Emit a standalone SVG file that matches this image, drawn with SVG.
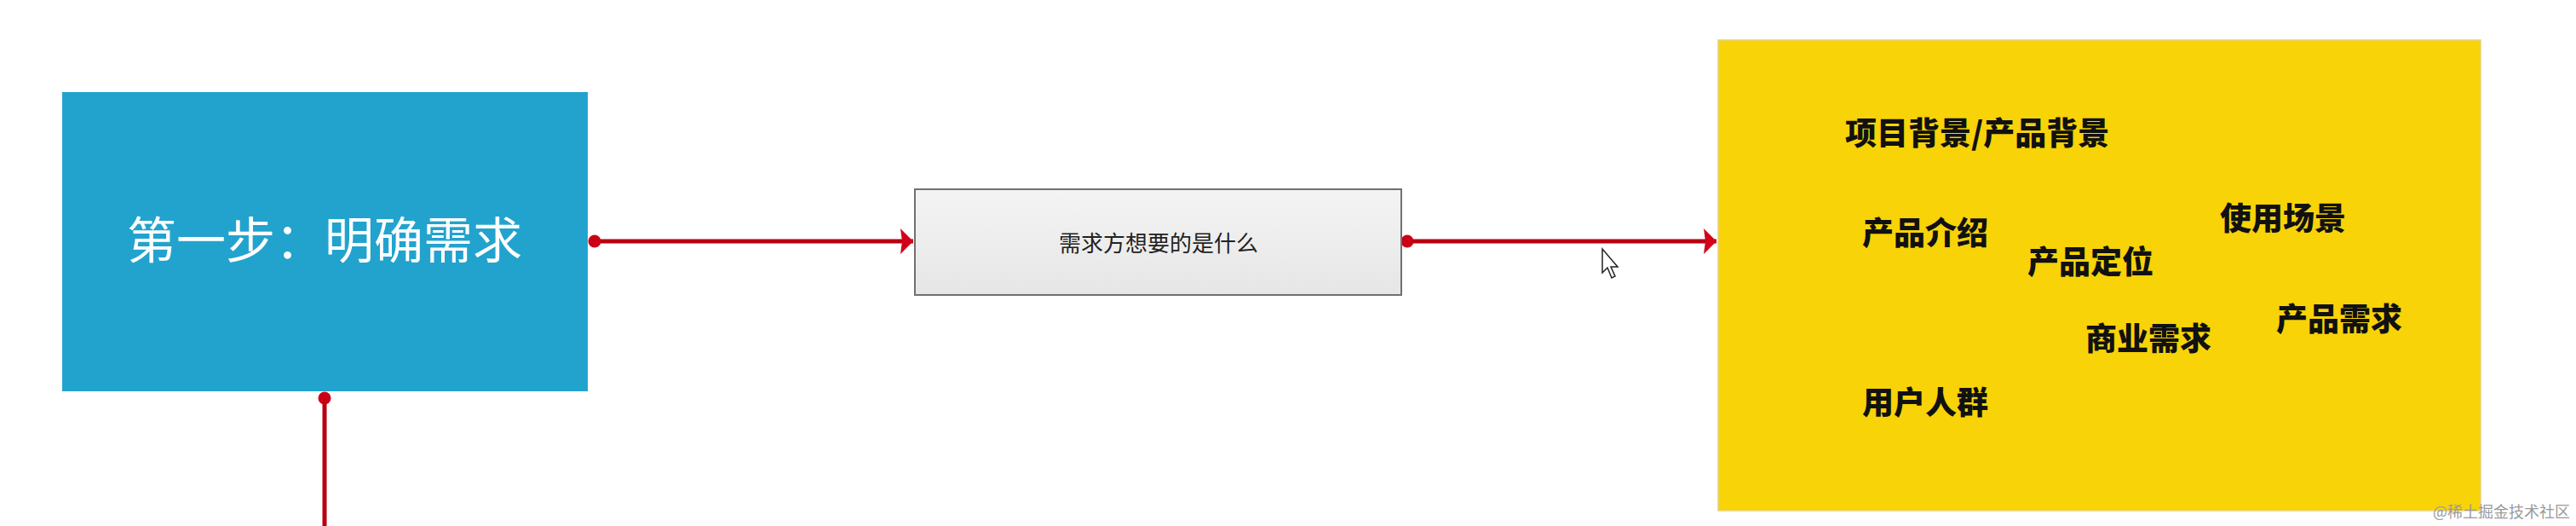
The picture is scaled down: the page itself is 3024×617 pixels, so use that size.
<svg xmlns="http://www.w3.org/2000/svg" width="3024" height="617" viewBox="0 0 3024 617">
<defs>
<style>
.cjk{font-family:"Noto Sans CJK SC","Noto Sans",sans-serif;}
.conn{stroke:#b8000f;stroke-width:5;fill:none;}
.kw{font-size:37px;font-weight:900;fill:#111;}
</style>
<linearGradient id="gbox" x1="0" y1="0" x2="0" y2="1">
<stop offset="0" stop-color="#f4f4f4"/>
<stop offset="1" stop-color="#e6e6e6"/>
</linearGradient>
<marker id="dot" markerUnits="userSpaceOnUse" markerWidth="18" markerHeight="18" refX="9" refY="9" orient="auto">
<circle cx="9" cy="9" r="7.5" fill="#cc0014"/>
</marker>
<marker id="arr" markerUnits="userSpaceOnUse" markerWidth="18" markerHeight="32" refX="16" refY="16" orient="auto">
<polygon points="1,1 16,16 1,31 3,16" fill="#d4001a"/>
</marker>
</defs>
<rect width="3024" height="617" fill="#ffffff"/>
<g id="connectors">
<line class="conn" x1="698" y1="283" x2="1072" y2="283" marker-start="url(#dot)" marker-end="url(#arr)"/>
<line class="conn" x1="1652" y1="283" x2="2015" y2="283" marker-start="url(#dot)" marker-end="url(#arr)"/>
<line class="conn" x1="381" y1="467" x2="381" y2="617" marker-start="url(#dot)"/>
</g>
<g id="step1">
<rect x="73" y="108" width="617" height="351" fill="#22a3ce"/>
<text class="cjk" x="381" y="303" font-size="58" fill="#ffffff" text-anchor="middle" font-weight="400">第一步：明确需求</text>
</g>
<g id="what">
<rect x="1074" y="222" width="571" height="124" fill="url(#gbox)" stroke="#707070" stroke-width="2"/>
<text class="cjk" x="1360" y="295" font-size="26" fill="#222" text-anchor="middle">需求方想要的是什么</text>
</g>
<g id="items">
<rect x="2017" y="47" width="895" height="552" fill="#f7d308" stroke="#e8d27a" stroke-width="1.5"/>
<text class="cjk kw" x="2166" y="170">项目背景/产品背景</text>
<text class="cjk kw" x="2186" y="287">产品介绍</text>
<text class="cjk kw" x="2380" y="321">产品定位</text>
<text class="cjk kw" x="2606" y="270">使用场景</text>
<text class="cjk kw" x="2672" y="388">产品需求</text>
<text class="cjk kw" x="2448" y="411">商业需求</text>
<text class="cjk kw" x="2186" y="486">用户人群</text>
</g>
<g id="cursor">
<polygon points="1881,292 1881,320 1887,314 1892,326 1896,324 1891,313 1899,313" fill="#ffffff" stroke="#222" stroke-width="1.5"/>
</g>
<text class="cjk" x="3017" y="607" font-size="18" fill="#9a9a9a" text-anchor="end">@稀土掘金技术社区</text>
</svg>
